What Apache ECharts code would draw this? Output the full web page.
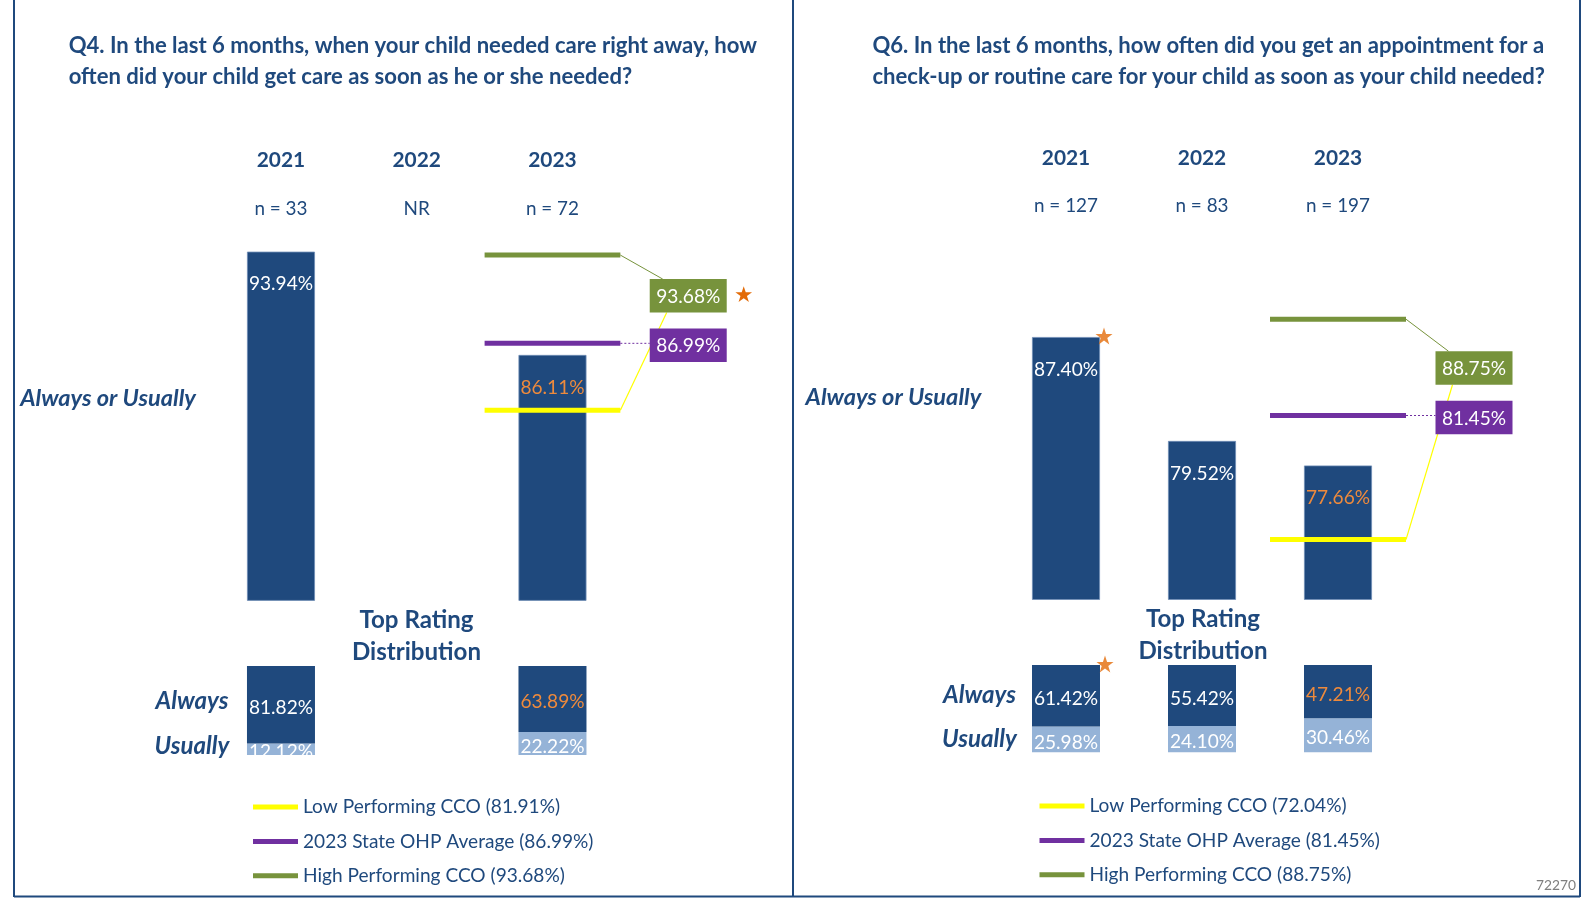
<!DOCTYPE html>
<html><head><meta charset="utf-8">
<script src="https://cdn.jsdelivr.net/npm/echarts@6/dist/echarts.min.js"></script>
<style>html,body{margin:0;padding:0;background:#fff}#c{width:1585px;height:898px}</style>
</head><body><div id="c"></div>
<script>
// ---------------- data ----------------
const years = ['2021', '2022', '2023'];
const refNames = ['Low Performing CCO', '2023 State OHP Average', 'High Performing CCO'];

const q4Title = ['Q4. In the last 6 months, when your child needed care right away, how',
                 'often did your child get care as soon as he or she needed?'];
const q4N = ['n = 33', 'NR', 'n = 72'];
const q4Rate = [93.94, null, 86.11];
const q4Always = [81.82, null, 63.89];
const q4Usually = [12.12, null, 22.22];
const q4Refs = [81.91, 86.99, 93.68];          // low, state average, high
const q4RateStar = [false, false, false];
const q4AlwaysStar = [false, false, false];
const q4HighStar = true;

const q6Title = ['Q6. In the last 6 months, how often did you get an appointment for a',
                 'check-up or routine care for your child as soon as your child needed?'];
const q6N = ['n = 127', 'n = 83', 'n = 197'];
const q6Rate = [87.40, 79.52, 77.66];
const q6Always = [61.42, 55.42, 47.21];
const q6Usually = [25.98, 24.10, 30.46];
const q6Refs = [72.04, 81.45, 88.75];
const q6RateStar = [true, false, false];
const q6AlwaysStar = [true, false, false];
const q6HighStar = false;

const sideLabel = 'Always or Usually';
const distTitle = ['Top Rating', 'Distribution'];
const distRows = ['Always', 'Usually'];
const footnote = '72270';

// ---------------- style ----------------
const FONT = 'Lato';
const NAVY = '#1F497D';
const LIGHT = '#95B3D7';
const ORANGE = '#EE8A3C';
const STAR = '#E36C09';
const REF_COLORS = ['#FFFF00', '#7030A0', '#77933C'];
const STAR_PATH = 'path://M50,0 L61.8,35.4 L99,35.4 L69,57.3 L80.4,92.7 L50,70.8 L19.6,92.7 L31,57.3 L1,35.4 L38.2,35.4 Z';

const mctx = document.createElement('canvas').getContext('2d');
function fit(text, weight, style, target) {
  mctx.font = style + ' ' + weight + ' 100px ' + FONT;
  return Math.round(100 * target / mctx.measureText(text).width * 10) / 10;
}
const FS_TITLE = (fit(q4Title[0], 'bold', 'normal', 689) + fit(q6Title[0], 'bold', 'normal', 672)) / 2;
const FS_YEAR = fit('2021', 'bold', 'normal', 48.5);
const FS_N = fit('n = 127', 'normal', 'normal', 64);
const FS_SIDE = fit(sideLabel, 'bold', 'italic', 176);
const FS_DIST = fit('Distribution', 'bold', 'normal', 129);
const FS_ROW = fit('Usually', 'bold', 'italic', 75);
const FS_LEG = fit('2023 State OHP Average (86.99%)', 'normal', 'normal', 290);
const FS_LAB = fit('81.82%', 'normal', 'normal', 64);
const FS_FOOT = fit(footnote, 'normal', 'normal', 40);
const TEXT_DY = 2;

const cats = years.concat(['']);
const Y_MIN = 67.5, Y_MAX = 96, PX_PER = 13.19;
const TOP_H = (Y_MAX - Y_MIN) * PX_PER;

const panels = [
  { title: q4Title, n: q4N, rate: q4Rate, always: q4Always, usually: q4Usually, refs: q4Refs,
    rateStar: q4RateStar, alwaysStar: q4AlwaysStar, highStar: q4HighStar,
    gx: 213.1, gw: 543, topBottom: 600.4, distTop: 666, distH: 89,
    titleX: 68.7, titleY: [43.5, 74.8], yearY: 158.7, nY: 207.2,
    sideX: 20.2, sideY: 396, distTitleX: 416.5, distTitleY: [618.6, 650],
    rowX: 192, rowY: [699.5, 744], legX: 253, legTop: 797 },
  { title: q6Title, n: q6N, rate: q6Rate, always: q6Always, usually: q6Usually, refs: q6Refs,
    rateStar: q6RateStar, alwaysStar: q6AlwaysStar, highStar: q6HighStar,
    gx: 998, gw: 544, topBottom: 599.5, distTop: 665, distH: 87.5,
    titleX: 872.4, titleY: [43.5, 74.8], yearY: 156.7, nY: 204.2,
    sideX: 805.6, sideY: 395, distTitleX: 1203, distTitleY: [617.6, 649],
    rowX: 979.5, rowY: [693.4, 737], legX: 1039.5, legTop: 796 }
];

const pct = v => v.toFixed(2) + '%';
const BOX_W = 77, BOX_H = 33.5, HIGH_GAP = 49.5, BOX_DY = 2;

function refRender(P, j) {
  return function (params, api) {
    const v = api.value(1);
    const c = api.coord([2, v]);
    const bw = api.size([1, 0])[0];
    const x0 = c[0] - bw / 2, x1 = c[0] + bw / 2, y = c[1];
    const boxCx = api.coord([3, v])[0];
    const avgY = api.coord([3, P.refs[1]])[1] + BOX_DY;
    const boxL = boxCx - BOX_W / 2;
    const col = REF_COLORS[j];
    const ch = [{ type: 'line', z2: 5, shape: { x1: x0, y1: y, x2: x1, y2: y },
                  style: { stroke: col, lineWidth: 5 } }];
    const box = (cy) => [
      { type: 'rect', z2: 10, shape: { x: boxL, y: cy - BOX_H / 2, width: BOX_W, height: BOX_H },
        style: { fill: col } },
      { type: 'text', z2: 11, x: boxCx, y: cy + 1,
        style: { text: pct(v), fill: '#fff', fontFamily: FONT, fontSize: FS_LAB,
                 align: 'center', verticalAlign: 'middle' } }
    ];
    if (j === 1) {
      ch.push({ type: 'line', z2: 1, shape: { x1: x1, y1: y, x2: boxL, y2: y },
                style: { stroke: col, lineWidth: 1, lineDash: [2, 2] } });
      ch.push(...box(avgY));
    } else if (j === 2) {
      const cy = avgY - HIGH_GAP;
      ch.push({ type: 'line', z2: 1, shape: { x1: x1, y1: y, x2: boxL + 13, y2: cy - BOX_H / 2 },
                style: { stroke: col, lineWidth: 1 } });
      ch.push(...box(cy));
      if (P.highStar) {
        ch.push({ type: 'path', z2: 11, shape: { pathData: STAR_PATH.slice(7) },
                  x: boxL + BOX_W + 8.5, y: cy - 9.5, scaleX: 0.17, scaleY: 0.17,
                  style: { fill: STAR } });
      }
    } else {
      const cy = avgY - HIGH_GAP;
      ch.push({ type: 'line', z2: 1, shape: { x1: x1, y1: y, x2: boxL + 17, y2: cy + BOX_H / 2 },
                style: { stroke: col, lineWidth: 1.2 } });
    }
    return { type: 'group', children: ch };
  };
}

const grid = [], xAxis = [], yAxis = [], series = [], legend = [];
panels.forEach((P, i) => {
  const gt = 2 * i, gd = 2 * i + 1;
  grid.push({ left: P.gx, width: P.gw, top: P.topBottom - TOP_H, height: TOP_H });
  grid.push({ left: P.gx, width: P.gw, top: P.distTop, height: P.distH });
  [gt, gd].forEach(g => xAxis.push({ type: 'category', gridIndex: g, data: cats, show: false }));
  yAxis.push({ type: 'value', gridIndex: gt, min: Y_MIN, max: Y_MAX, show: false });
  yAxis.push({ type: 'value', gridIndex: gd, min: 0, max: 100, show: false });

  const lab = (k, extra) => Object.assign({ color: years[k] === '2023' ? ORANGE : '#fff' }, extra || {});
  series.push({
    type: 'bar', xAxisIndex: gt, yAxisIndex: gt, barWidth: 68, z: 2,
    itemStyle: { color: NAVY, borderColor: '#6E8DB5', borderWidth: 0.8 },
    label: { show: true, position: 'insideTop', distance: 23, fontFamily: FONT, fontSize: FS_LAB,
             formatter: p => pct(p.value) },
    data: P.rate.map((v, k) => v == null ? null : { value: v, label: lab(k) }).concat([null])
  });
  // 100% stacked distribution (share of the top rating)
  const tot = P.always.map((a, k) => a == null ? null : a + P.usually[k]);
  series.push({
    type: 'bar', xAxisIndex: gd, yAxisIndex: gd, barWidth: 68, stack: 'd' + i,
    itemStyle: { color: LIGHT },
    label: { show: true, position: 'inside', offset: [0, 3], fontFamily: FONT, fontSize: FS_LAB, color: '#fff',
             formatter: p => pct(P.usually[p.dataIndex]) },
    data: P.usually.map((u, k) => u == null ? null : u / tot[k] * 100).concat([null])
  });
  series.push({
    type: 'bar', xAxisIndex: gd, yAxisIndex: gd, barWidth: 68, stack: 'd' + i,
    itemStyle: { color: NAVY },
    label: { show: true, position: 'inside', offset: [0, 3], fontFamily: FONT, fontSize: FS_LAB,
             formatter: p => pct(P.always[p.dataIndex]) },
    data: P.always.map((a, k) => a == null ? null : { value: a / tot[k] * 100, label: lab(k) }).concat([null])
  });
  // reference lines with label boxes
  const names = [];
  P.refs.forEach((v, j) => {
    const name = refNames[j] + ' (' + pct(v) + ')';
    names.push(name);
    series.push({
      type: 'custom', name, xAxisIndex: gt, yAxisIndex: gt, z: 3,
      itemStyle: { color: REF_COLORS[j] },
      renderItem: refRender(P, j), data: [[2, v]]
    });
  });
  // significance stars
  const rs = P.rate.map((v, k) => P.rateStar[k] ? [k, v] : null).filter(Boolean);
  if (rs.length) series.push({ type: 'scatter', xAxisIndex: gt, yAxisIndex: gt, z: 5, symbol: STAR_PATH,
    symbolSize: 17, symbolOffset: [38, -1], itemStyle: { color: STAR }, data: rs, silent: true });
  const as = P.always.map((v, k) => P.alwaysStar[k] ? [k, 100] : null).filter(Boolean);
  if (as.length) series.push({ type: 'scatter', xAxisIndex: gd, yAxisIndex: gd, z: 5, symbol: STAR_PATH,
    symbolSize: 17, symbolOffset: [39, -1], itemStyle: { color: STAR }, data: as, silent: true });

  legend.push({
    data: names, orient: 'vertical', left: P.legX, top: P.legTop, icon: 'rect', padding: 0,
    itemWidth: 45, itemHeight: 5, itemGap: 14.4, selectedMode: false,
    textStyle: { fontFamily: FONT, fontSize: FS_LEG, color: NAVY, lineHeight: 20 }
  });
});

const chart = echarts.init(document.getElementById('c'), null, { renderer: 'canvas' });
chart.setOption({ animation: false, backgroundColor: '#fff', grid, xAxis, yAxis, series, legend });

// ---------------- text & frame ----------------
function txt(x, y, text, size, o) {
  o = o || {};
  return { type: 'text', x, y: y + TEXT_DY, z: 50, silent: true,
    style: { text, fontFamily: FONT, fontSize: size, fontWeight: o.w || 'normal', fontStyle: o.s || 'normal',
             fill: o.c || NAVY, align: o.a || 'left', verticalAlign: 'middle' } };
}
const g = [];
panels.forEach((P, i) => {
  P.title.forEach((t, k) => g.push(txt(P.titleX, P.titleY[k], t, FS_TITLE, { w: 'bold' })));
  years.forEach((yv, k) => {
    const x = chart.convertToPixel({ xAxisIndex: 2 * i }, yv);
    g.push(txt(x, P.yearY, yv, FS_YEAR, { w: 'bold', a: 'center' }));
    g.push(txt(x, P.nY, P.n[k], FS_N, { a: 'center' }));
  });
  g.push(txt(P.sideX, P.sideY, sideLabel, FS_SIDE, { w: 'bold', s: 'italic' }));
  distTitle.forEach((t, k) => g.push(txt(P.distTitleX, P.distTitleY[k], t, FS_DIST, { w: 'bold', a: 'center' })));
  distRows.forEach((t, k) => g.push(txt(P.rowX, P.rowY[k], t, FS_ROW, { w: 'bold', s: 'italic', a: 'center' })));
  // plot-area clip under the distribution bars
  g.push({ type: 'rect', z: 40, silent: true,
           shape: { x: P.gx, y: P.distTop + P.distH, width: P.gw, height: 30 }, style: { fill: '#fff' } });
});
g.push(txt(1576, 884, footnote, FS_FOOT, { c: '#7F7F7F', a: 'right' }));
const frame = { stroke: NAVY, lineWidth: 2 };
[[14, 0, 14, 897], [793, 0, 793, 897], [1580, 0, 1580, 897], [14, 896.5, 1580, 896.5]].forEach(l =>
  g.push({ type: 'line', z: 60, silent: true, shape: { x1: l[0], y1: l[1], x2: l[2], y2: l[3] }, style: frame }));
chart.setOption({ graphic: g });
</script>
</body></html>
